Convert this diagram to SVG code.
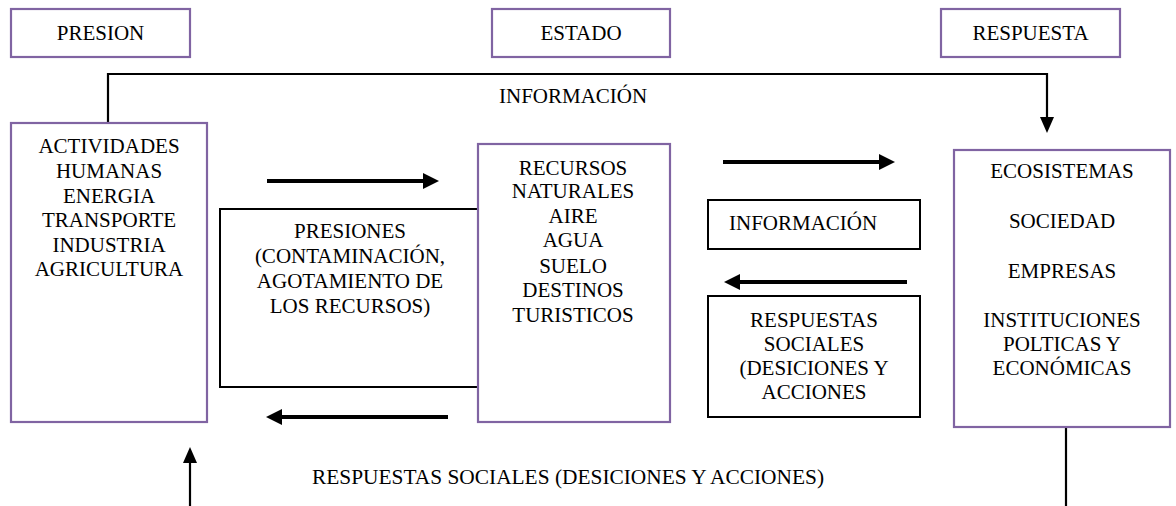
<svg xmlns="http://www.w3.org/2000/svg" width="1176" height="506" viewBox="0 0 1176 506">
<style>
.t{font-family:"Liberation Serif","Times New Roman",serif;font-size:21px;fill:#000;text-anchor:middle}
.tl{font-family:"Liberation Serif","Times New Roman",serif;font-size:21px;fill:#000}
.pb{fill:#fff;stroke:#8064A2;stroke-width:2.2}
.bb{fill:#fff;stroke:#000;stroke-width:2}
.thick{stroke:#000;stroke-width:4;fill:none}
.thin{stroke:#000;stroke-width:2.2;fill:none}
</style>
<defs>
<marker id="ah" markerUnits="userSpaceOnUse" markerWidth="16" markerHeight="16" refX="1" refY="8" orient="auto">
<path d="M0,0 L16,8 L0,16 z" fill="#000"/>
</marker>
<marker id="ahs" markerUnits="userSpaceOnUse" markerWidth="16" markerHeight="14" refX="1" refY="7" orient="auto">
<path d="M0,0 L16,7 L0,14 z" fill="#000"/>
</marker>
</defs>
<rect width="1176" height="506" fill="#fff"/>

<g id="presion">
<rect class="pb" x="11" y="9" width="179" height="48"/>
<text class="t" x="100.5" y="40">PRESION</text>
</g>
<g id="estado">
<rect class="pb" x="492" y="9" width="178" height="48"/>
<text class="t" x="581" y="40">ESTADO</text>
</g>
<g id="respuesta">
<rect class="pb" x="941" y="9" width="179" height="48"/>
<text class="t" x="1030.5" y="40">RESPUESTA</text>
</g>

<g id="connectors">
<path class="thin" d="M108,123 V74 H1047 V118" marker-end="url(#ahs)"/>
<line class="thick" x1="267" y1="181" x2="424" y2="181" marker-end="url(#ah)"/>
<line class="thick" x1="448" y1="417" x2="281" y2="417" marker-end="url(#ah)"/>
<line class="thick" x1="723" y1="162" x2="880" y2="162" marker-end="url(#ah)"/>
<line class="thick" x1="907" y1="282" x2="739" y2="282" marker-end="url(#ah)"/>
<line class="thin" x1="1066" y1="427" x2="1066" y2="506"/>
<line class="thin" x1="190" y1="506" x2="190" y2="462" marker-end="url(#ahs)"/>
<text class="tl" x="499" y="103">INFORMACIÓN</text>
<text class="tl" x="312" y="484" textLength="512" lengthAdjust="spacingAndGlyphs">RESPUESTAS SOCIALES (DESICIONES Y ACCIONES)</text>
</g>

<g id="actividades">
<rect class="pb" x="11" y="123" width="196" height="299"/>
<text class="t" x="109" y="153">ACTIVIDADES</text>
<text class="t" x="109" y="178">HUMANAS</text>
<text class="t" x="109" y="203">ENERGIA</text>
<text class="t" x="109" y="227">TRANSPORTE</text>
<text class="t" x="109" y="252">INDUSTRIA</text>
<text class="t" x="109" y="276">AGRICULTURA</text>
</g>

<g id="presiones">
<rect class="bb" x="220" y="209" width="259" height="178"/>
<text class="t" x="350" y="238">PRESIONES</text>
<text class="t" x="350" y="263">(CONTAMINACIÓN,</text>
<text class="t" x="350" y="288">AGOTAMIENTO DE</text>
<text class="t" x="350" y="313">LOS RECURSOS)</text>
</g>

<g id="recursos">
<rect class="pb" x="478" y="144" width="192" height="278"/>
<text class="t" x="573" y="175">RECURSOS</text>
<text class="t" x="573" y="198">NATURALES</text>
<text class="t" x="573" y="223">AIRE</text>
<text class="t" x="573" y="247">AGUA</text>
<text class="t" x="573" y="273">SUELO</text>
<text class="t" x="573" y="297">DESTINOS</text>
<text class="t" x="573" y="322">TURISTICOS</text>
</g>

<g id="informacion">
<rect class="bb" x="708" y="200" width="212" height="49"/>
<text class="tl" x="729" y="230">INFORMACIÓN</text>
</g>

<g id="respuestas-sociales">
<rect class="bb" x="708" y="296" width="212" height="121"/>
<text class="t" x="814" y="327">RESPUESTAS</text>
<text class="t" x="814" y="351">SOCIALES</text>
<text class="t" x="814" y="375">(DESICIONES Y</text>
<text class="t" x="814" y="399">ACCIONES</text>
</g>

<g id="ecosistemas">
<rect class="pb" x="954" y="150" width="216" height="277"/>
<text class="t" x="1062" y="178">ECOSISTEMAS</text>
<text class="t" x="1062" y="228">SOCIEDAD</text>
<text class="t" x="1062" y="278">EMPRESAS</text>
<text class="t" x="1062" y="327">INSTITUCIONES</text>
<text class="t" x="1062" y="351">POLTICAS Y</text>
<text class="t" x="1062" y="375">ECONÓMICAS</text>
</g>
</svg>
